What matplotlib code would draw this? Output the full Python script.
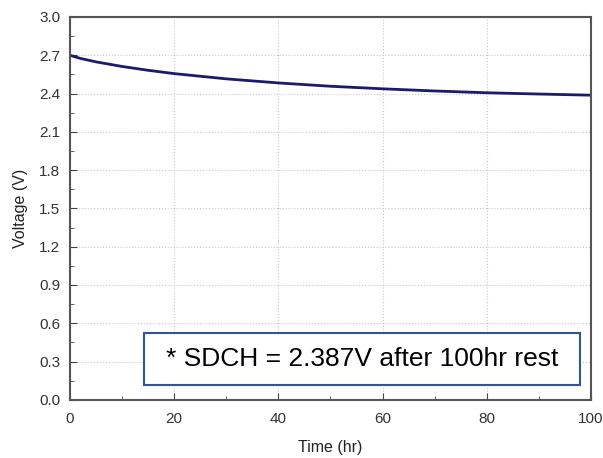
import matplotlib as mpl
mpl.use('Agg')
import matplotlib.pyplot as plt
from matplotlib.patches import Rectangle
from matplotlib.ticker import MultipleLocator

plt.rcParams['font.family'] = ['Liberation Sans', 'DejaVu Sans']

# data
time_hr = [0, 2, 5, 10, 15, 20, 30, 40, 50, 60, 70, 80, 90, 100]
voltage = [2.700, 2.675, 2.648, 2.612, 2.582, 2.556, 2.515, 2.483,
           2.457, 2.437, 2.420, 2.406, 2.396, 2.387]
note = '* SDCH = 2.387V after 100hr rest'

fig = plt.figure(figsize=(6.03, 4.58), dpi=100, facecolor='white')
ax = fig.add_axes([0.116, 0.127, 0.864, 0.836])

ax.plot(time_hr, voltage, color='#1a1a6e', lw=2)

ax.set_xlim(0, 100)
ax.set_ylim(0, 3.0)
ax.xaxis.set_major_locator(MultipleLocator(20))
ax.xaxis.set_minor_locator(MultipleLocator(10))
ax.yaxis.set_major_locator(MultipleLocator(0.3))
ax.yaxis.set_minor_locator(MultipleLocator(0.15))
ax.yaxis.set_major_formatter(plt.FormatStrFormatter('%.1f'))
ax.tick_params(which='both', direction='in', top=False, right=False,
               labelsize=11, labelcolor='#333333', color='#444444')
ax.tick_params(which='major', length=5)
ax.tick_params(which='minor', length=3)
ax.tick_params(axis='x', pad=9)
ax.tick_params(axis='y', pad=7)
ax.grid(True, which='major', ls=':', color='#c8c8c8', lw=0.8)
for s in ax.spines.values():
    s.set_color('#555555')
    s.set_linewidth(1.5)

ax.set_xlabel('Time (hr)', fontsize=11.5, color='#222222', labelpad=10)
ax.set_ylabel('Voltage (V)', fontsize=11.5, color='#222222', labelpad=8)

# note box
ax.add_patch(Rectangle((0.142, 0.039), 0.837, 0.136, transform=ax.transAxes,
                       facecolor='white', edgecolor='#2f5597', lw=1.5, zorder=5))
ax.text(0.56, 0.107, note, transform=ax.transAxes, ha='center', va='center',
        fontsize=19, color='black', zorder=6)

fig.savefig('out.png', dpi=100)
